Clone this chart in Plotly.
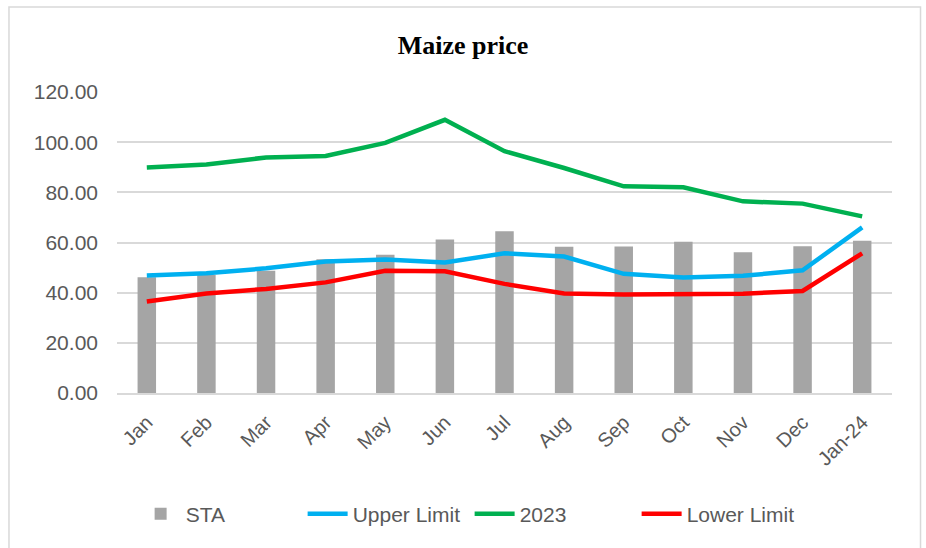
import plotly.graph_objects as go

months = ["Jan", "Feb", "Mar", "Apr", "May", "Jun", "Jul", "Aug", "Sep", "Oct", "Nov", "Dec", "Jan-24"]
sta = [46.1, 47.0, 48.7, 53.3, 55.1, 61.2, 64.5, 58.3, 58.4, 60.3, 56.1, 58.5, 60.7]
upper = [46.8, 47.7, 49.7, 52.4, 53.2, 52.0, 55.7, 54.4, 47.5, 46.0, 46.7, 48.9, 66.0]
y2023 = [89.9, 91.1, 93.9, 94.5, 99.7, 108.9, 96.4, 89.7, 82.4, 82.0, 76.4, 75.5, 70.4]
lower = [36.5, 39.7, 41.5, 44.1, 48.7, 48.5, 43.5, 39.7, 39.3, 39.6, 39.6, 40.7, 55.7]
yticks = [0, 20, 40, 60, 80, 100, 120]

font_main = "Liberation Sans, Arial, sans-serif"
grey_text = "#595959"

fig = go.Figure()
fig.add_trace(go.Bar(x=months, y=sta, name="STA", marker=dict(color="#a5a5a5", line=dict(width=0)), width=0.31))
fig.add_trace(go.Scatter(x=months, y=upper, name="Upper Limit", mode="lines",
                         line=dict(color="#00b0f0", width=4.5)))
fig.add_trace(go.Scatter(x=months, y=y2023, name="2023", mode="lines",
                         line=dict(color="#00b050", width=4.5)))
fig.add_trace(go.Scatter(x=months, y=lower, name="Lower Limit", mode="lines",
                         line=dict(color="#ff0000", width=4.5)))

fig.update_layout(
    width=926, height=548,
    margin=dict(l=117, r=34, t=92, b=155),
    paper_bgcolor="white", plot_bgcolor="white",
    title=dict(text="<b>Maize price</b>", x=0.5, xanchor="center", y=1 - 45 / 548, yanchor="middle",
               yref="container", font=dict(family="Liberation Serif, Times New Roman, serif", size=26, color="black")),
    showlegend=True,
    legend=dict(orientation="h", x=0.455, xanchor="center", y=-0.402, yanchor="middle",
                font=dict(family=font_main, size=21, color=grey_text), itemwidth=40,
                entrywidth=112, entrywidthmode="pixels", traceorder="normal"),
    bargap=0.69,
    shapes=[dict(type="rect", xref="paper", yref="paper", x0=-0.1394, x1=1.0368, y0=-0.7, y1=1.2824,
                 line=dict(color="#d9d9d9", width=1.5), fillcolor="rgba(0,0,0,0)", layer="below")],
)
fig.update_xaxes(showgrid=False, showline=True, linecolor="#d9d9d9", linewidth=1.5, tickangle=-45,
                 tickfont=dict(family=font_main, size=20, color=grey_text), ticks="", ticklen=0,
                 ticklabelstandoff=8)
fig.update_yaxes(range=[0, 120], tickvals=yticks, ticktext=[f"{v:.2f}" for v in yticks],
                 showgrid=True, gridcolor="#d9d9d9", gridwidth=1.5, zeroline=False, showline=False,
                 tickfont=dict(family=font_main, size=21, color=grey_text), ticks="", ticklen=0,
                 ticklabelstandoff=18)

fig.write_html("out.html", config={"displayModeBar": False},
               post_script="document.body.style.margin='0';")
